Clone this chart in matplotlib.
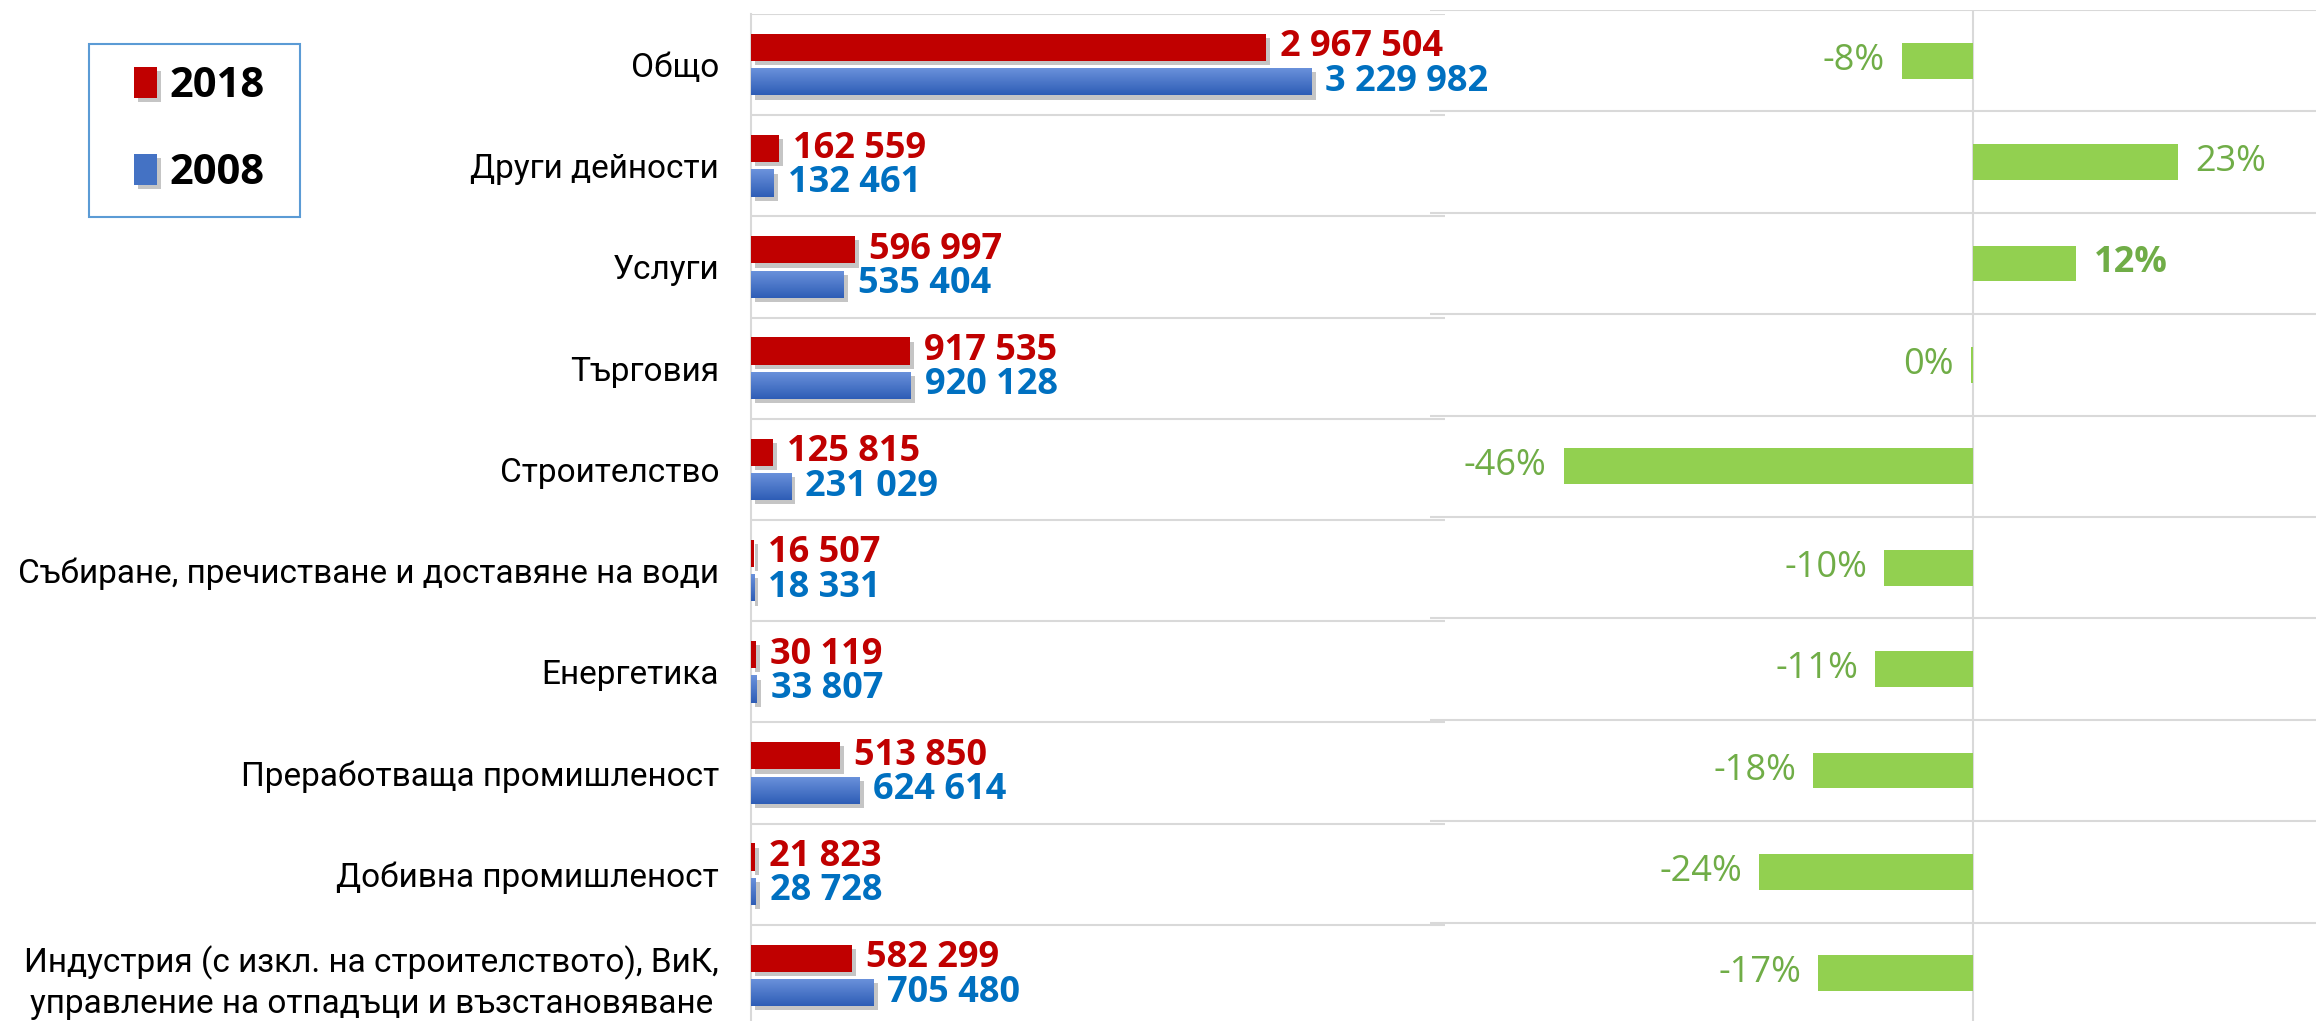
import matplotlib

matplotlib.use('Agg')
import matplotlib.pyplot as plt
import matplotlib.patheffects as pe
from matplotlib.colors import LinearSegmentedColormap
from matplotlib.patches import Rectangle
import numpy as np

# данни
categories = ['Общо', 'Други дейности', 'Услуги', 'Търговия', 'Строителство',
              'Събиране, пречистване и доставяне на води', 'Енергетика',
              'Преработваща промишленост', 'Добивна промишленост',
              'Индустрия (с изкл. на строителството), ВиК,\nуправление на отпадъци и възстановяване']
values_2018 = [2967504, 162559, 596997, 917535, 125815, 16507, 30119, 513850, 21823, 582299]
values_2008 = [3229982, 132461, 535404, 920128, 231029, 18331, 33807, 624614, 28728, 705480]
change = [-0.08, 0.23, 0.116, -0.003, -0.46, -0.10, -0.11, -0.18, -0.24, -0.174]
bold_change = ['12%']

plt.rcParams['font.family'] = ['Open Sans', 'DejaVu Sans']
LABEL_FONT = ['Roboto', 'DejaVu Sans']

RED = '#C00000'
BLUE = '#4472C4'
GRID = '#D9D9D9'
FS = 26

W, H = 2316, 1021
fig = plt.figure(figsize=(W / 100, H / 100), dpi=100)

# лява диаграма - абсолютни стойности
ax = fig.add_axes([751 / W, -5 / H, 694 / W, 1012 / H])
n = len(categories)
y = np.arange(n)

shadow = [pe.SimplePatchShadow(offset=(3, -3), shadow_rgbFace='#808080', alpha=0.45), pe.Normal()]
bars_red = ax.barh(y - 0.17, values_2018, height=0.27, color=RED, zorder=3, label='2018')
bars_blue = ax.barh(y + 0.17, values_2008, height=0.27, color=BLUE, zorder=3, label='2008')
for b in list(bars_red) + list(bars_blue):
    b.set_path_effects(shadow)

# градиент за сините колони
grad_cmap = LinearSegmentedColormap.from_list('blue_grad', ['#6C93DC', '#2E5DB6'])
grad = np.linspace(0, 1, 64).reshape(-1, 1)
for rect in bars_blue:
    x0, w = rect.get_x(), rect.get_width()
    y0, h = rect.get_y(), rect.get_height()
    im = ax.imshow(grad, extent=[x0, x0 + w, y0 + h, y0], cmap=grad_cmap,
                   aspect='auto', zorder=3.5, interpolation='bilinear')
    im.set_clip_path(rect)

for rects, vals, col in [(bars_red, values_2018, RED), (bars_blue, values_2008, '#0070C0')]:
    for rect, v in zip(rects, vals):
        ax.annotate(f'{v:,}'.replace(',', ' '), xy=(v, rect.get_y() + rect.get_height() / 2),
                    xytext=(14, 0), textcoords='offset pixels', ha='left', va='center',
                    fontsize=FS, fontweight='bold', color=col)

ax.set_xlim(0, 4000000)
ax.set_ylim(n - 0.5, -0.5)
ax.set_yticks(y)
ax.set_yticklabels(categories, fontsize=24, family=LABEL_FONT)
for t in ax.get_yticklabels():
    t.set_multialignment('center')
    t.set_linespacing(1.3)
ax.set_yticks(np.arange(-0.5, n, 1), minor=True)
ax.tick_params(axis='y', which='major', length=0, pad=23)
ax.tick_params(axis='y', which='minor', length=0)
ax.set_xticks([])
ax.grid(which='minor', axis='y', color=GRID, linewidth=1.5)
ax.set_axisbelow(True)
for s in ['top', 'right', 'bottom']:
    ax.spines[s].set_visible(False)
ax.spines['left'].set_color(GRID)
ax.spines['left'].set_linewidth(1.5)

# дясна диаграма - изменение в %
ax2 = fig.add_axes([1430 / W, -3 / H, 886 / W, 1014 / H])
bars_pct = ax2.barh(y, change, height=0.355, color='#92D050', zorder=3)
for rect, v in zip(bars_pct, change):
    label = f'{round(v * 100)}%'
    yy = rect.get_y() + rect.get_height() / 2
    if v >= 0:
        off, ha = 17, 'left'
    else:
        off, ha = -17, 'right'
    ax2.annotate(label, xy=(v, yy), xytext=(off, 0), textcoords='offset pixels',
                 ha=ha, va='center', fontsize=FS, color='#70AD47',
                 fontweight='bold' if label in bold_change else 'normal')

ax2.set_xlim(-0.61, 0.385)
ax2.set_ylim(n - 0.5, -0.5)
ax2.set_xticks([0])
ax2.set_yticks(np.arange(-0.5, n, 1))
ax2.tick_params(length=0, labelbottom=False, labelleft=False)
ax2.grid(True, color=GRID, linewidth=1.5)
ax2.set_axisbelow(True)
for s in ax2.spines.values():
    s.set_visible(False)
ax2.patch.set_alpha(0)

# легенда с рамка
fig.legend(handles=[bars_red, bars_blue], labels=['2018', '2008'], loc='center left',
           bbox_to_anchor=(134 / W, 1 - 130 / H), frameon=False,
           prop={'size': 30, 'weight': 'bold'},
           handlelength=0.55, handleheight=0.75, handletextpad=0.3,
           labelspacing=1.1, borderpad=0, borderaxespad=0)
fig.patches.append(Rectangle((89 / W, 1 - 217 / H), 211 / W, 173 / H, transform=fig.transFigure,
                             fill=False, edgecolor='#5B9BD5', linewidth=1.5))

fig.savefig('out.png', dpi=100)
plt.close()
